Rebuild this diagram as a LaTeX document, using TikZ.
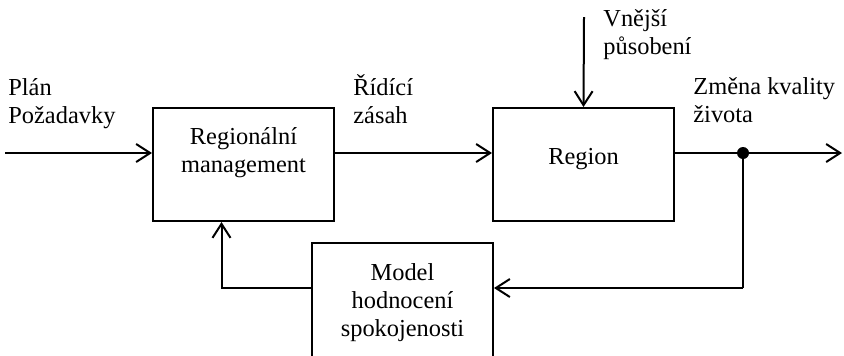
\documentclass[tikz,border=0pt]{standalone}
\usepackage{fontspec}
\setmainfont{Liberation Serif}
\usetikzlibrary{arrows.meta}
\tikzset{
  blok/.style={draw,line width=1pt,minimum width=90.5pt,minimum height=56.5pt,align=center,inner sep=0pt},
  popis/.style={align=left,anchor=base west,inner sep=0pt},
  sip/.style={line width=1pt,-{Straight Barb[length=7pt,width=9pt,line width=1pt]}},
  spoj/.style={line width=1pt}
}
\begin{document}
\begin{tikzpicture}[x=0.5pt,y=-0.5pt,font=\fontsize{12.2}{14}\selectfont]
\path[use as bounding box,clip](0,0)rectangle(844,355);
% bloky
\node[blok](mgmt)at(243.5,164.5){Regionální\\management\\~};
\node[blok,text depth=8pt](reg)at(583.5,164.5){Region};
\node[blok,minimum height=60pt](model)at(402.5,303){Model\\hodnocení\\spokojenosti};
% popisky
\node[popis](plan)at(8,123){Plán\\Požadavky};
\node[popis](zasah)at(353,123){Řídící\\zásah};
\node[popis](vnejsi)at(603,54){Vnější\\působení};
\node[popis](zmena)at(693,122){Změna kvality\\života};
% spoje
\coordinate(vstup)at(5,153);
\coordinate(vliv)at(584,17);
\coordinate(uzel)at(743,153);
\coordinate(vystup)at(842,153);
\coordinate(zpet)at(743,288);
\draw[sip](vstup)--(mgmt.west|-vstup);
\draw[sip](mgmt.east|-vstup)--(reg.west|-vstup);
\draw[sip](vliv)--(reg.north);
\draw[sip](reg.east|-vstup)--(vystup);
\fill(uzel)circle(3pt);
\draw[spoj](uzel)--(zpet);
\draw[sip](zpet)--(model.east|-zpet);
\draw[sip](model.west|-zpet)-|([xshift=-11pt]mgmt.south);
\end{tikzpicture}
\end{document}
